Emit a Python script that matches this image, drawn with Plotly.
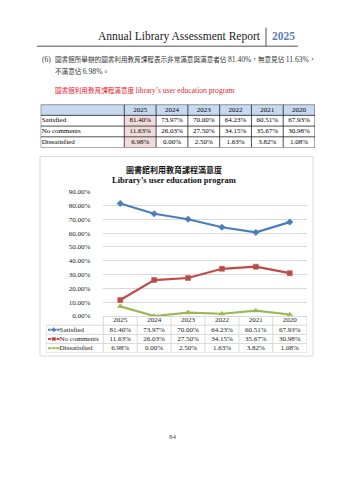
import plotly.graph_objects as go

W, H = 339, 480

# ---------------- data ----------------
years = ["2025", "2024", "2023", "2022", "2021", "2020"]
series_names = ["Satisfied", "No comments", "Dissatisfied"]
satisfied = [81.40, 73.97, 70.00, 64.23, 60.51, 67.93]
no_comments = [11.63, 26.03, 27.50, 34.15, 35.67, 30.98]
dissatisfied = [6.98, 0.00, 2.50, 1.63, 3.82, 1.08]
y_tick_values = [0, 10, 20, 30, 40, 50, 60, 70, 80, 90]

header_title = "Annual Library Assessment Report"
header_year = "2025"
para_num = "(6)"
para_line1 = "圖書館所舉辦的圖書利用教育課程表示非常滿意與滿意者佔 81.40%，無意見佔 11.63%，"
para_line2 = "不滿意佔 6.98%。"
caption_zh = "圖書館利用教育課程滿意度"
caption_en = "library’s user education program"
chart_title_zh = "圖書館利用教育課程滿意度"
chart_title_en = "Library’s user education program"
page_no = "84"

# ---------------- styles ----------------
series_values = [satisfied, no_comments, dissatisfied]
series_colors = ["#4a7ebb", "#be4b48", "#98b954"]
series_symbols = ["diamond", "square", "triangle-up"]
SERIF = "Liberation Serif, Times New Roman, serif"
CJK = "Noto Sans CJK TC, Noto Sans CJK SC, sans-serif"
GRID = "#d9d9d9"


def fx(px):
    return px / W


def fy(py):
    return 1 - py / H


def fmt(v):
    return f"{v:.2f}%"


n = len(years)
rows = len(series_names)
fig = go.Figure()

# ---------------- top summary table (axis pair 2) ----------------
first_w = 2.63  # width of label column in units of one year column
x_edges_t = [-first_w] + list(range(n + 1))
z = [[1] * (n + 1)]
for r in range(rows):
    z.append([0, 2] + [0] * (n - 1))
fig.add_trace(go.Heatmap(
    x=x_edges_t, y=list(range(rows + 1)), z=z, zmin=0, zmax=2,
    colorscale=[[0, "#ffffff"], [0.5, "#c6d9f1"], [1, "#f2dcdb"]],
    showscale=False, hoverinfo="skip", xaxis="x2", yaxis="y2"))
tx, ty, tt = [], [], []
for i, yr in enumerate(years):
    tx.append(i + 0.5); ty.append(0); tt.append(yr)
    for r in range(rows):
        tx.append(i + 0.5); ty.append(r + 1); tt.append(fmt(series_values[r][i]))
fig.add_trace(go.Scatter(x=tx, y=ty, text=tt, mode="text",
                         textfont=dict(family=SERIF, size=7, color="#000"),
                         hoverinfo="skip", xaxis="x2", yaxis="y2", showlegend=False))
fig.add_trace(go.Scatter(x=[-first_w + 0.03] * rows, y=list(range(1, rows + 1)),
                         text=series_names, mode="text", textposition="middle right",
                         textfont=dict(family=SERIF, size=7, color="#000"),
                         hoverinfo="skip", xaxis="x2", yaxis="y2", showlegend=False))
shapes = []
for xe in x_edges_t:
    shapes.append(dict(type="line", xref="x2", yref="y2", x0=xe, x1=xe, y0=-0.5, y1=rows + 0.5,
                       line=dict(color="#222", width=0.8)))
for r in range(rows + 2):
    shapes.append(dict(type="line", xref="x2", yref="y2", x0=-first_w, x1=n, y0=r - 0.5, y1=r - 0.5,
                       line=dict(color="#222", width=0.8)))

# ---------------- line chart (axis pair 1) ----------------
for name, vals, col, sym in zip(series_names, series_values, series_colors, series_symbols):
    fig.add_trace(go.Scatter(
        x=list(range(n)), y=vals, mode="lines+markers", name=name,
        line=dict(color=col, width=2.2),
        marker=dict(symbol=sym, size=5, color=col, line=dict(color=col, width=0.5)),
        xaxis="x", yaxis="y", showlegend=False, hoverinfo="skip"))

# ---------------- chart data table (axis pair 3) ----------------
leg_w = 1.69
left3 = -0.5 - leg_w
dx, dy, dt = [], [], []
for i, yr in enumerate(years):
    dx.append(i); dy.append(0); dt.append(yr)
    for r in range(rows):
        dx.append(i); dy.append(r + 1); dt.append(fmt(series_values[r][i]))
fig.add_trace(go.Scatter(x=dx, y=dy, text=dt, mode="text",
                         textfont=dict(family=SERIF, size=7, color="#222"),
                         hoverinfo="skip", xaxis="x3", yaxis="y3", showlegend=False))
for r, (name, col, sym) in enumerate(zip(series_names, series_colors, series_symbols)):
    fig.add_trace(go.Scatter(
        x=[left3 + 0.06, left3 + 0.23, left3 + 0.40], y=[r + 1] * 3, mode="lines+markers",
        line=dict(color=col, width=2), marker=dict(symbol=sym, size=[0, 5, 0], color=col),
        hoverinfo="skip", xaxis="x3", yaxis="y3", showlegend=False))
fig.add_trace(go.Scatter(x=[left3 + 0.40] * rows, y=list(range(1, rows + 1)),
                         text=series_names, mode="text", textposition="middle right",
                         textfont=dict(family=SERIF, size=7, color="#222"),
                         hoverinfo="skip", xaxis="x3", yaxis="y3", showlegend=False))
for i in range(n + 1):
    shapes.append(dict(type="line", xref="x3", yref="y3", x0=i - 0.5, x1=i - 0.5, y0=-0.5, y1=rows + 0.5,
                       line=dict(color=GRID, width=1)))
shapes.append(dict(type="line", xref="x3", yref="y3", x0=left3, x1=left3, y0=0.5, y1=rows + 0.5,
                   line=dict(color=GRID, width=1)))
for r in range(rows + 1):
    shapes.append(dict(type="line", xref="x3", yref="y3", x0=left3, x1=n - 0.5, y0=r + 0.5, y1=r + 0.5,
                       line=dict(color=GRID, width=1)))

# chart frame and page header lines
shapes.append(dict(type="rect", xref="paper", yref="paper", x0=fx(40), x1=fx(313), y0=fy(358), y1=fy(155),
                   line=dict(color=GRID, width=1), layer="below"))
shapes.append(dict(type="line", xref="paper", yref="paper", x0=fx(37), x1=fx(298), y0=fy(43), y1=fy(43),
                   line=dict(color="#8c8c8c", width=1.5)))
shapes.append(dict(type="line", xref="paper", yref="paper", x0=fx(266), x1=fx(266), y0=fy(24), y1=fy(43),
                   line=dict(color="#555", width=1)))


def serif_span(s):
    return f"<span style='font-family:{SERIF};font-size:7.6px'>{s}</span>"


line1_html = para_line1.replace("81.40%", serif_span("81.40%")).replace("11.63%", serif_span("11.63%"))
line2_html = para_line2.replace("6.98%", serif_span("6.98%"))

ann = []
ann.append(dict(text=header_title, x=fx(263), y=fy(33), xanchor="right", yanchor="middle",
                font=dict(family=SERIF, size=11.5, color="#222")))
ann.append(dict(text="<b>" + header_year + "</b>", x=fx(270), y=fy(33), xanchor="left", yanchor="middle",
                font=dict(family=SERIF, size=11.5, color="#5a80b8")))
ann.append(dict(text=para_num, x=fx(40), y=fy(56), xanchor="left", yanchor="middle",
                font=dict(family=SERIF, size=7.4, color="#333")))
ann.append(dict(text=line1_html, x=fx(53), y=fy(56), xanchor="left", yanchor="middle",
                font=dict(family=CJK, size=6.6, color="#333")))
ann.append(dict(text=line2_html, x=fx(53), y=fy(68), xanchor="left", yanchor="middle",
                font=dict(family=CJK, size=6.6, color="#333")))
ann.append(dict(text=caption_zh + " " + serif_span(caption_en), x=fx(53), y=fy(87), xanchor="left",
                yanchor="middle", font=dict(family=CJK, size=6.6, color="#e8232a")))
ann.append(dict(text="<b>" + chart_title_zh + "</b>", x=fx(174), y=fy(168), xanchor="center", yanchor="middle",
                font=dict(family=CJK, size=8, color="#111")))
ann.append(dict(text="<b>" + chart_title_en + "</b>", x=fx(174), y=fy(179), xanchor="center", yanchor="middle",
                font=dict(family=SERIF, size=8.5, color="#111")))
ann.append(dict(text=page_no, x=fx(173), y=fy(440), xanchor="center", yanchor="middle",
                font=dict(family=SERIF, size=7, color="#555")))
for a in ann:
    a.update(xref="paper", yref="paper", showarrow=False)

fig.update_layout(
    width=W, height=H, margin=dict(l=0, r=0, t=0, b=0),
    paper_bgcolor="white", plot_bgcolor="rgba(0,0,0,0)",
    showlegend=False, shapes=shapes, annotations=ann,
    xaxis=dict(domain=[fx(103.3), fx(306.7)], range=[-0.5, n - 0.5], anchor="y",
               showticklabels=False, showgrid=False, zeroline=False, fixedrange=True),
    yaxis=dict(domain=[fy(317.3), fy(190.8)], range=[0, 90], anchor="x",
               tickvals=y_tick_values, ticktext=[fmt(v) for v in y_tick_values],
               tickfont=dict(family=SERIF, size=7, color="#222"), ticklabelstandoff=12,
               showgrid=True, gridcolor=GRID, gridwidth=1, zeroline=True, zerolinecolor=GRID,
               zerolinewidth=1, fixedrange=True),
    xaxis2=dict(domain=[fx(40.7), fx(315)], range=[-first_w, n], anchor="y2", visible=False),
    yaxis2=dict(domain=[fy(146), fy(102.3)], range=[rows + 0.5, -0.5], anchor="x2", visible=False),
    xaxis3=dict(domain=[fx(46), fx(306.7)], range=[left3, n - 0.5], anchor="y3", visible=False),
    yaxis3=dict(domain=[fy(354.7), fy(317.3)], range=[rows + 0.5, -0.5], anchor="x3", visible=False),
)

fig.write_html("out.html")
